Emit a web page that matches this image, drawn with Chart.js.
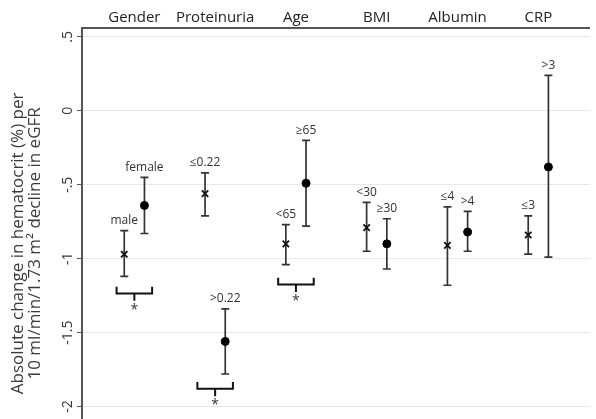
<!DOCTYPE html>
<html>
<head>
<meta charset="utf-8">
<script src="https://cdn.jsdelivr.net/npm/chart.js@4.4.0/dist/chart.umd.min.js"></script>
<style>
  html, body { margin: 0; padding: 0; background: #fff; }
  #frame { width: 596px; height: 419px; overflow: hidden; }
  #wrap { width: 596px; height: 465px; }
</style>
</head>
<body>
<div id="frame"><div id="wrap"><canvas id="chart"></canvas></div></div>
<script>
// subgroup categories (top axis)
const groups = ['Gender', 'Proteinuria', 'Age', 'BMI', 'Albumin', 'CRP'];

// first subgroup of each pair (x marker)
const lowLabels = ['male', '≤0.22', '<65', '<30', '≤4', '≤3'];
const lowEst   = [-0.97, -0.56, -0.90, -0.79, -0.91, -0.84];
const lowUpper = [-0.81, -0.42, -0.77, -0.62, -0.65, -0.71];
const lowLower = [-1.12, -0.71, -1.04, -0.95, -1.18, -0.97];

// second subgroup of each pair (filled dot)
const highLabels = ['female', '>0.22', '≥65', '≥30', '>4', '>3'];
const highEst   = [-0.64, -1.56, -0.49, -0.90, -0.82, -0.38];
const highUpper = [-0.45, -1.34, -0.20, -0.73, -0.68, 0.24];
const highLower = [-0.83, -1.78, -0.78, -1.07, -0.95, -0.99];

// significant differences (group index) and where the bracket sits
const sigGroups = [0, 1, 2];
const sigLevel  = [-1.19, -1.835, -1.13];

// y axis
const yTicks = [0.5, 0, -0.5, -1, -1.5, -2];
const yTickLabels = ['.5', '0', '-.5', '-1', '-1.5', '-2'];

const FONT = '"Open Sans", "DejaVu Sans", sans-serif';
const pairOffset = 0.125;
const bracketHalf = 0.22;
const bracketDepth = 0.045;
const stemLen = 0.05;

const lowX = i => i + 1 - pairOffset;
const highX = i => i + 1 + pairOffset;

// vertical CI lines, broken between bars
const ciLines = [];
const ciCaps = [];
groups.forEach((g, i) => {
    ciLines.push({x: lowX(i), y: lowLower[i]}, {x: lowX(i), y: lowUpper[i]}, {x: lowX(i), y: null});
    ciLines.push({x: highX(i), y: highLower[i]}, {x: highX(i), y: highUpper[i]}, {x: highX(i), y: null});
    ciCaps.push({x: lowX(i), y: lowLower[i]}, {x: lowX(i), y: lowUpper[i]});
    ciCaps.push({x: highX(i), y: highLower[i]}, {x: highX(i), y: highUpper[i]});
});

// brackets under the significant pairs
const brackets = [];
sigGroups.forEach((gi, k) => {
    const c = gi + 1, top = sigLevel[k], bot = top - bracketDepth;
    brackets.push({x: c - bracketHalf, y: top}, {x: c - bracketHalf, y: bot},
                  {x: c + bracketHalf, y: bot}, {x: c + bracketHalf, y: top}, {x: c, y: null},
                  {x: c, y: bot}, {x: c, y: bot - stemLen}, {x: c, y: null});
});

const annotate = {
    id: 'annotate',
    afterDatasetsDraw(chart) {
        const {ctx, scales: {x, y}} = chart;
        ctx.save();
        ctx.fillStyle = '#333';
        ctx.textAlign = 'center';
        ctx.textBaseline = 'bottom';
        ctx.font = '12px ' + FONT;
        groups.forEach((g, i) => {
            ctx.fillText(lowLabels[i], x.getPixelForValue(lowX(i)), y.getPixelForValue(lowUpper[i]) - 4);
            ctx.fillText(highLabels[i], x.getPixelForValue(highX(i)), y.getPixelForValue(highUpper[i]) - 4);
        });
        ctx.font = '14px ' + FONT;
        ctx.textBaseline = 'top';
        sigGroups.forEach((gi, k) => {
            const yy = y.getPixelForValue(sigLevel[k] - bracketDepth - stemLen);
            ctx.fillText('*', x.getPixelForValue(gi + 1), yy + 2);
        });
        ctx.restore();
    }
};

new Chart(document.getElementById('chart'), {
    type: 'scatter',
    data: {
        datasets: [{
            label: 'low',
            data: groups.map((g, i) => ({x: lowX(i), y: lowEst[i]})),
            pointStyle: 'crossRot',
            pointRadius: 4.5,
            borderColor: '#111',
            borderWidth: 1.8
        }, {
            label: 'high',
            data: groups.map((g, i) => ({x: highX(i), y: highEst[i]})),
            pointStyle: 'circle',
            pointRadius: 4,
            backgroundColor: '#000',
            borderColor: '#000',
            borderWidth: 1
        }, {
            label: 'caps',
            data: ciCaps,
            pointStyle: 'line',
            pointRadius: 4,
            borderColor: '#333',
            borderWidth: 1.7
        }, {
            label: 'ci',
            data: ciLines,
            showLine: true,
            spanGaps: false,
            pointRadius: 0,
            borderColor: '#333',
            borderWidth: 1.7
        }, {
            label: 'brackets',
            data: brackets,
            showLine: true,
            spanGaps: false,
            pointRadius: 0,
            borderColor: '#111',
            borderWidth: 2
        }]
    },
    options: {
        responsive: true,
        maintainAspectRatio: false,
        animation: false,
        layout: { padding: 0 },
        plugins: { legend: { display: false }, tooltip: { enabled: false } },
        scales: {
            x: {
                type: 'linear',
                position: 'top',
                min: 0.352,
                max: 6.636,
                afterBuildTicks: s => { s.ticks = groups.map((g, i) => ({value: i + 1})); },
                afterFit: s => { s.height = 28; },
                ticks: {
                    padding: 1,
                    color: '#222',
                    font: { family: FONT, size: 15 },
                    callback: (v, i) => groups[i]
                },
                grid: { display: false, drawTicks: false },
                border: { color: '#555', width: 2 }
            },
            y: {
                min: -2.353,
                max: 0.56,
                afterBuildTicks: s => { s.ticks = yTicks.map(v => ({value: v})); },
                afterFit: s => { s.width = 82; },
                ticks: {
                    minRotation: 90,
                    maxRotation: 90,
                    crossAlign: 'center',
                    padding: -3,
                    color: '#333',
                    font: { family: FONT, size: 14 },
                    callback: (v, i) => yTickLabels[i]
                },
                grid: { color: '#e8e8e8', tickColor: '#555', tickLength: 5 },
                border: { color: '#555', width: 2 },
                title: {
                    display: true,
                    text: ['Absolute change in hematocrit (%) per', '10 ml/min/1.73 m² decline in eGFR'],
                    color: '#3a3a3a',
                    font: { family: FONT, size: 17, lineHeight: 1 },
                    padding: { top: 9.5, bottom: 0 }
                }
            }
        }
    },
    plugins: [annotate]
});
</script>
</body>
</html>
